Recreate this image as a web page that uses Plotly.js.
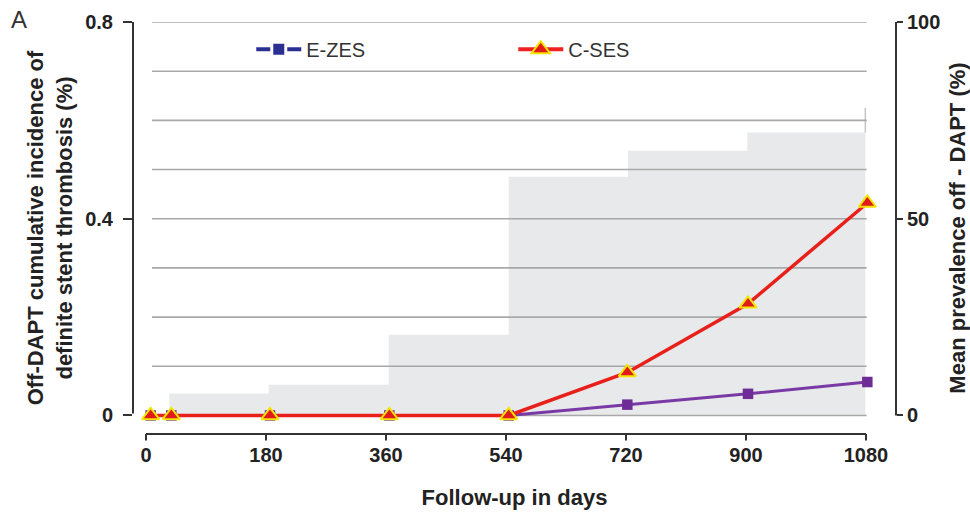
<!DOCTYPE html>
<html>
<head>
<meta charset="utf-8">
<script src="https://cdn.plot.ly/plotly-3.0.1.min.js"></script>
<style>
  html, body { margin: 0; padding: 0; background: #ffffff; }
  #chart { width: 970px; height: 517px; }
</style>
</head>
<body>
<div id="chart"></div>
<script>
// ---- data ----
const days        = [7, 38, 186, 365, 544, 722, 903, 1082];
const ezesValues  = [0, 0, 0, 0, 0, 0.022, 0.044, 0.068];      // E-ZES cumulative incidence (%)
const csesValues  = [0, 0, 0, 0, 0, 0.0875, 0.227, 0.432];     // C-SES cumulative incidence (%)

const prevDays    = [35, 184, 364, 544, 723, 902, 1079];       // step starts, mean prevalence off-DAPT
const prevValues  = [5.6, 7.8, 20.5, 60.7, 67.3, 71.9, 71.9];  // %
const prevTailX   = [1079, 1079];
const prevTailY   = [71.9, 78.2];

const xTicks      = [0, 180, 360, 540, 720, 900, 1080];
const yLeftTicks  = [0, 0.4, 0.8];
const yLeftText   = ['0', '0.4', '0.8'];
const yRightTicks = [0, 50, 100];
const gridValues  = [0, 0.1, 0.2, 0.3, 0.4, 0.5, 0.6, 0.7, 0.8];
const gridStart   = 9;
const gridEnd     = 1081;

// ---- styling ----
const FONT = 'Liberation Sans, Arial, Helvetica, sans-serif';
const AX = '#333333';

// gridline trace built from gridValues
const gx = [], gy = [];
gridValues.forEach(v => { gx.push(gridStart, gridEnd, null); gy.push(v, v, null); });

const traces = [
  { // grey prevalence area (right axis)
    x: prevDays, y: prevValues, yaxis: 'y', type: 'scatter', mode: 'lines',
    line: { shape: 'hv', width: 0, color: '#e8e9ea' },
    fill: 'tozeroy', fillcolor: '#e8e9ea', showlegend: false, hoverinfo: 'skip'
  },
  { x: prevTailX, y: prevTailY, yaxis: 'y', type: 'scatter', mode: 'lines',
    line: { width: 1.5, color: '#c4c4c4' }, showlegend: false, hoverinfo: 'skip' },
  { // gridlines
    x: gx, y: gy, yaxis: 'y2', type: 'scatter', mode: 'lines',
    line: { width: 1.6, color: '#a8a8a8' }, showlegend: false, hoverinfo: 'skip'
  },
  { name: 'E-ZES', x: days, y: ezesValues, yaxis: 'y2', type: 'scatter', mode: 'lines+markers',
    line: { color: '#7a3aa6', width: 3 },
    marker: { symbol: 'square', size: 10.5, color: '#6e2d96' }, showlegend: false },
  { name: 'C-SES', x: days, y: csesValues, yaxis: 'y2', type: 'scatter', mode: 'lines+markers',
    line: { color: '#e8201c', width: 3.5 },
    marker: { symbol: 'triangle-up', size: 15, color: '#e11b1b', line: { color: '#f4e400', width: 2 } },
    showlegend: false },
  // legend entries (styled as in the reference key)
  { name: 'E-ZES', x: [null], y: [null], yaxis: 'y2', type: 'scatter', mode: 'lines+markers',
    line: { color: '#2b2f92', width: 4 },
    marker: { symbol: 'square', size: 14, color: '#2b2f92', line: { color: '#ffffff', width: 3 } } },
  { name: 'C-SES', x: [null], y: [null], yaxis: 'y2', type: 'scatter', mode: 'lines+markers',
    line: { color: '#ee2222', width: 4 },
    marker: { symbol: 'triangle-up', size: 20, color: '#e11b1b', line: { color: '#f4e400', width: 2 } } }
];

const tickFont = { family: FONT, size: 20, color: '#222', weight: 'bold' };
const titleFont = { family: FONT, size: 22, color: '#222', weight: 'bold' };

// x tick marks drawn from xTicks (labels come from the axis)
const tickShapes = xTicks.map(t => ({
  type: 'line', xref: 'x', yref: 'paper', x0: t, x1: t, y0: 0, y1: -0.016,
  line: { color: AX, width: 2 }
}));

const layout = {
  width: 970, height: 517,
  margin: { l: 133, r: 74, t: 22, b: 83 },
  paper_bgcolor: '#ffffff', plot_bgcolor: 'rgba(0,0,0,0)',
  font: { family: FONT, color: '#222' },
  showlegend: true,
  legend: {
    orientation: 'h', x: 0.155, y: 0.934, xanchor: 'left', yanchor: 'middle',
    font: { family: FONT, size: 20, color: '#333' },
    bgcolor: 'rgba(0,0,0,0)', entrywidth: 202, itemwidth: 45
  },
  xaxis: {
    range: [-19.5, 1125], tickvals: xTicks, ticks: '', ticklabelstandoff: 7,
    showline: false, showgrid: false, zeroline: false, tickfont: tickFont,
    title: { text: 'Follow-up in days', font: titleFont, standoff: 24 }
  },
  yaxis: { // right: mean prevalence off-DAPT (%)
    side: 'right', range: [-4.71, 100], tickvals: yRightTicks, ticks: 'outside', ticklen: 6, tickwidth: 2,
    tickcolor: AX, showline: false, showgrid: false, zeroline: false, tickfont: tickFont,
    title: { text: 'Mean prevalence off - DAPT (%)', font: titleFont, standoff: 14 }
  },
  yaxis2: { // left: cumulative incidence (%)
    side: 'left', overlaying: 'y', range: [-0.0377, 0.8], tickvals: yLeftTicks, ticktext: yLeftText,
    ticks: 'outside', ticklen: 9, tickwidth: 2, tickcolor: AX, ticklabelstandoff: 6,
    showline: false, showgrid: false, zeroline: false, tickfont: tickFont,
    title: { text: 'Off-DAPT cumulative incidence of<br>definite stent thrombosis (%)', font: titleFont, standoff: 6 }
  },
  shapes: [
    { type: 'line', xref: 'paper', yref: 'y2', x0: 0, x1: 0, y0: 0.004, y1: 0.8, line: { color: AX, width: 2 } },
    { type: 'line', xref: 'x', yref: 'paper', x0: xTicks[0], x1: xTicks[xTicks.length - 1], y0: 0, y1: 0, line: { color: AX, width: 2 } },
    { type: 'line', xref: 'paper', yref: 'y', x0: 1, x1: 1, y0: yRightTicks[0], y1: yRightTicks[yRightTicks.length - 1], line: { color: AX, width: 2 } }
  ].concat(tickShapes),
  annotations: [
    { text: 'A', xref: 'paper', yref: 'paper', x: -0.163, y: 1.005, xanchor: 'left', yanchor: 'middle',
      showarrow: false, font: { family: FONT, size: 24, color: '#333' } }
  ]
};

Plotly.newPlot('chart', traces, layout, { displayModeBar: false, staticPlot: true });
</script>
</body>
</html>
